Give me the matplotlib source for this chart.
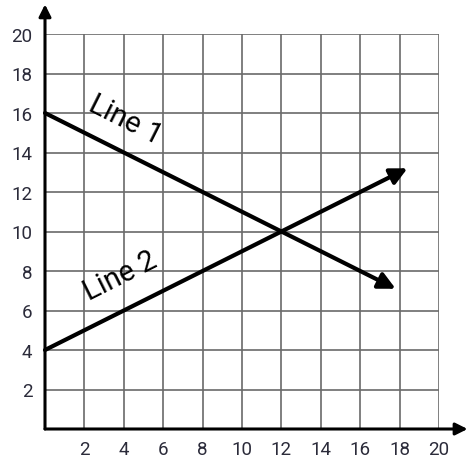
import numpy as np
import matplotlib.pyplot as plt

plt.rcParams['font.family'] = ['Roboto', 'DejaVu Sans']

# tick values on both axes
x_ticks = [2, 4, 6, 8, 10, 12, 14, 16, 18, 20]
y_ticks = [2, 4, 6, 8, 10, 12, 14, 16, 18, 20]

# line endpoints (start, arrow tip)
line1_x = [0, 17.8]
line1_y = [16, 7.1]
line2_x = [0, 18.4]
line2_y = [4, 13.2]

W, H = 466, 464
fig = plt.figure(figsize=(W / 100, H / 100), dpi=100)
ax = fig.add_axes([45 / W, 34 / H, 394 / W, 395 / H])
ax.set_xlim(0, 20)
ax.set_ylim(0, 20)

# grid
for v in range(2, 21, 2):
    ax.axvline(v, color='#6a6a6a', lw=1.2, zorder=1)
    ax.axhline(v, color='#6a6a6a', lw=1.2, zorder=1)

for s in ['top', 'right', 'left', 'bottom']:
    ax.spines[s].set_visible(False)

ax.set_xticks(x_ticks)
ax.set_yticks(y_ticks)
ax.set_xticklabels([str(t) for t in x_ticks])
ax.set_yticklabels([str(t) for t in y_ticks])
ax.tick_params(length=0, labelsize=13.5, labelcolor='#2b2b3a')
ax.tick_params(axis='x', pad=8)
ax.tick_params(axis='y', pad=9)

# axes with arrow heads
ax.annotate('', xy=(21.45, 0), xytext=(0, 0),
            arrowprops=dict(arrowstyle='-|>', color='black', lw=2.2,
                            mutation_scale=18, shrinkA=0, shrinkB=0),
            annotation_clip=False, zorder=3)
ax.annotate('', xy=(0, 21.5), xytext=(0, 0),
            arrowprops=dict(arrowstyle='-|>', color='black', lw=2.2,
                            mutation_scale=18, shrinkA=0, shrinkB=0),
            annotation_clip=False, zorder=3)

# the two lines
for xs, ys in [(line1_x, line1_y), (line2_x, line2_y)]:
    ax.annotate('', xy=(xs[1], ys[1]), xytext=(xs[0], ys[0]),
                arrowprops=dict(arrowstyle='-|>', color='black', lw=3,
                                mutation_scale=25, shrinkA=0, shrinkB=0),
                annotation_clip=False, zorder=4)

ax.text(4.1, 15.7, 'Line 1', rotation=-26.6, fontsize=21,
        ha='center', va='center', rotation_mode='anchor', color='black')
ax.text(3.8, 7.8, 'Line 2', rotation=26.6, fontsize=21,
        ha='center', va='center', rotation_mode='anchor', color='black')

fig.savefig('out.png', dpi=100)
